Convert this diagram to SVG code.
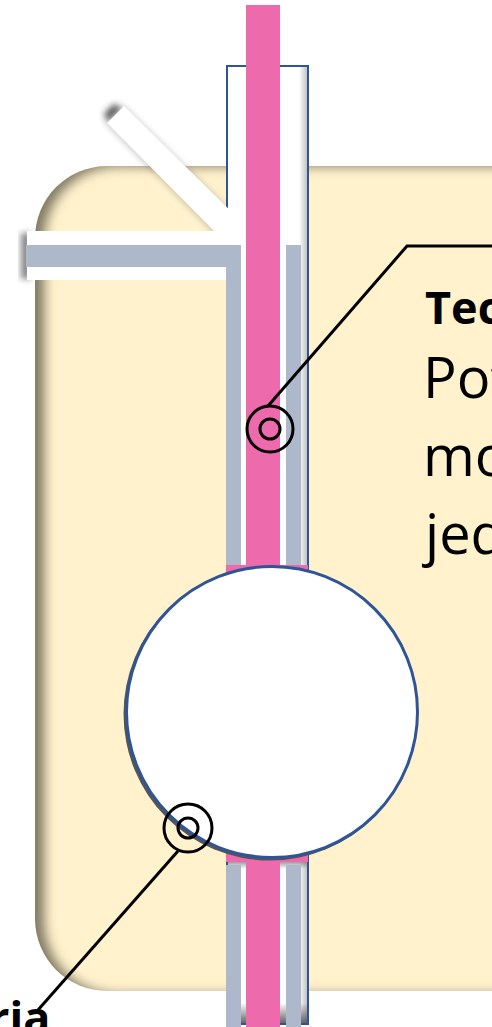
<svg xmlns="http://www.w3.org/2000/svg" width="492" height="1027" viewBox="0 0 492 1027">
<style>
.gray{fill:#adb9ca}
.pink{fill:#ed6aac}
.white{fill:#fff}
.call{fill:none;stroke:#000;stroke-width:3}
.t{font-family:"Open Sans",Lato,sans-serif;fill:#000}
.b{font-weight:700;font-size:45px}
.r{font-size:56px}
</style>
<defs>
<filter id="inner" x="-5%" y="-5%" width="110%" height="110%">
<feGaussianBlur in="SourceAlpha" stdDeviation="5.500" result="b"/>
<feOffset in="b" dx="11" dy="2" result="o"/>
<feComposite in="SourceAlpha" in2="o" operator="out" result="edge"/>
<feFlood flood-color="#3a3628" flood-opacity="0.8"/>
<feComposite in2="edge" operator="in" result="sh"/>
<feMerge><feMergeNode in="SourceGraphic"/><feMergeNode in="sh"/></feMerge>
</filter>
<filter id="drop" x="-30%" y="-30%" width="160%" height="160%">
<feGaussianBlur stdDeviation="3"/>
</filter>
<linearGradient id="tubeFade" x1="0" y1="0" x2="0" y2="1">
<stop offset="0" stop-color="#555" stop-opacity="0"/>
<stop offset="1" stop-color="#555" stop-opacity="0.9"/>
</linearGradient>
<linearGradient id="tubeTop" x1="0" y1="0" x2="0" y2="1">
<stop offset="0" stop-color="#777" stop-opacity="0.7"/>
<stop offset="1" stop-color="#777" stop-opacity="0"/>
</linearGradient>
<linearGradient id="tubeEdge" x1="0" y1="0" x2="1" y2="0">
<stop offset="0" stop-color="#999" stop-opacity="0"/>
<stop offset="1" stop-color="#999" stop-opacity="0.6"/>
</linearGradient>
</defs>
<g id="chamber">
<rect x="35" y="166" width="560" height="825" rx="72" ry="72" fill="#fff2cc" filter="url(#inner)"/>
</g>
<g id="side-arm-shadow">
<polygon points="108,122 122,108 114,104 104,114" fill="#555" filter="url(#drop)"/>
<rect x="21" y="233" width="10" height="46" fill="#555" opacity="0.7" filter="url(#drop)"/>
<polygon points="106,124 226,245 246,226 124,106" fill="#777" opacity="0.4" filter="url(#drop)"/>
</g>
<g id="outer-tube">
<rect x="227" y="66" width="81" height="958" class="white" stroke="#2f5597" stroke-width="2"/>
<rect x="299" y="67" width="8" height="956" fill="url(#tubeEdge)"/>
<rect x="228" y="862" width="79" height="7" fill="url(#tubeTop)"/>
<rect x="228" y="1003" width="79" height="20" fill="url(#tubeFade)"/>
</g>
<g id="side-arm">
<polygon points="107,123 124,106 246,226 246,246 228,245" class="white"/>
<rect x="27" y="231" width="214" height="14" class="white"/>
<rect x="27" y="267" width="199" height="13" class="white"/>
<path d="M26 245H241V565H226V267H26Z" class="gray"/>
<rect x="286" y="245" width="15" height="320" class="gray"/>
<rect x="226" y="865" width="15" height="162" class="gray"/>
<rect x="286" y="865" width="15" height="162" class="gray"/>
</g>
<g id="inner-tube">
<rect x="246" y="5" width="34" height="1022" class="pink"/>
<rect x="226" y="565" width="82" height="8" class="pink"/>
<rect x="226" y="853" width="82" height="9" class="pink"/>
</g>
<g id="bulb">
<circle cx="270" cy="714" r="146.500" fill="#555"/>
<circle cx="272" cy="712" r="145.500" class="white" stroke="#2f5597" stroke-width="3"/>
</g>
<g id="connectors">
<path class="call" d="M268 406L407 246H492"/>
<path class="call" d="M178 851L38 1010"/>
</g>
<g id="marker-upper">
<circle class="call" cx="270" cy="429" r="23"/>
<circle class="call" cx="270" cy="429" r="10"/>
</g>
<g id="marker-lower">
<circle class="call" cx="188" cy="828" r="24"/>
<circle class="call" cx="188" cy="828" r="10"/>
</g>
<g id="label-upper">
<text class="t b" x="425" y="324">Tec</text>
<text class="t r" x="423" y="398">Pot</text>
<text class="t r" x="423" y="476">mo</text>
<text class="t r" x="425" y="554">jed</text>
</g>
<g id="label-lower">
<text class="t b" x="-11" y="1034">ria</text>
</g>
</svg>
